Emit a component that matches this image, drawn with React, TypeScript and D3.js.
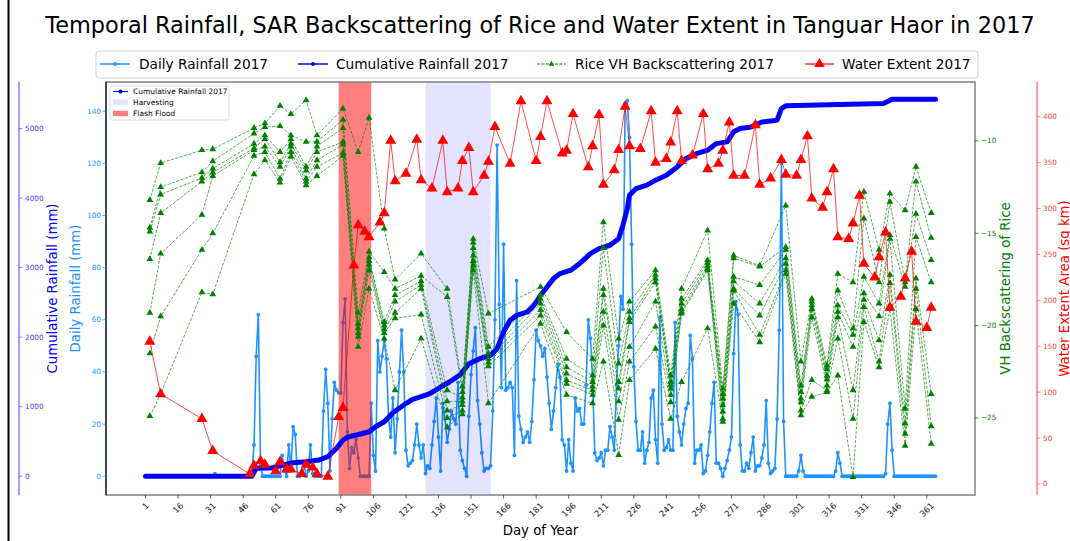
import React from "react";
import * as d3 from "d3";

// daily rainfall 2017, day 1..365 (mm)
const dailyRain: number[] = [
  0, 0, 0, 0, 0, 0, 0, 0, 0, 0,
  0, 0, 0, 0, 0, 0, 0, 0, 0, 0,
  0, 0, 0, 0, 0, 0, 0, 0, 0, 0,
  0, 0, 1, 0, 0, 0, 0, 0, 0, 0,
  0, 0, 0, 0, 0, 0, 0, 0, 0, 0,
  12, 46, 62, 4, 0, 0, 0, 0, 0, 0,
  0, 0, 0, 8, 2, 0, 12, 3, 19, 16,
  0, 0, 1, 5, 0, 2, 12, 1, 0, 0,
  0, 0, 25, 41, 28, 2, 22, 36, 33, 32,
  32, 59, 68, 17, 3, 11, 9, 14, 7, 0,
  0, 0, 0, 0, 28, 8, 2, 52, 40, 46,
  52, 45, 22, 15, 30, 9, 22, 40, 56, 40,
  10, 4, 5, 6, 12, 20, 12, 7, 12, 1,
  4, 3, 12, 21, 30, 15, 2, 28, 22, 13,
  18, 25, 22, 20, 36, 10, 6, 3, 0, 23,
  39, 48, 57, 29, 20, 9, 2, 3, 3, 4,
  25, 60, 127, 66, 34, 89, 33, 34, 36, 34,
  8, 75, 23, 18, 13, 15, 17, 13, 21, 37,
  56, 52, 50, 46, 49, 38, 28, 18, 25, 34,
  43, 38, 14, 12, 2, 14, 5, 2, 30, 25,
  26, 20, 20, 35, 60, 53, 37, 9, 6, 7,
  9, 4, 10, 10, 19, 15, 10, 35, 50, 69,
  64, 143, 144, 130, 89, 42, 21, 10, 10, 17,
  5, 10, 13, 30, 33, 14, 5, 61, 20, 10,
  11, 14, 10, 10, 59, 23, 17, 12, 20, 26,
  28, 54, 45, 5, 10, 10, 12, 1, 2, 8,
  17, 28, 36, 5, 5, 3, 0, 3, 6, 10,
  15, 47, 67, 62, 12, 2, 2, 5, 3, 9,
  15, 2, 4, 4, 7, 12, 29, 5, 1, 2,
  3, 22, 56, 120, 21, 0, 0, 0, 0, 0,
  0, 2, 8, 2, 0, 0, 0, 0, 0, 0,
  0, 0, 0, 0, 0, 0, 0, 0, 2, 9,
  5, 0, 0, 0, 0, 0, 0, 0, 0, 0,
  0, 0, 0, 0, 0, 0, 0, 0, 0, 0,
  0, 1, 20, 28, 10, 0, 0, 0, 0, 0,
  0, 0, 0, 0, 0, 0, 0, 0, 0, 0,
  0, 0, 0, 0, 0,
];

// cumulative rainfall
const cumDays = [1, 50, 52, 59, 69, 75, 81, 85, 89, 92, 94, 100, 104, 107, 111, 115, 120, 124, 128, 132, 137, 141, 146, 150, 155, 160, 163, 166, 169, 172, 177, 180, 183, 186, 189, 192, 197, 201, 206, 210, 215, 219, 221, 223, 224, 227, 232, 236, 241, 246, 250, 255, 260, 264, 269, 272, 275, 280, 285, 292, 294, 296, 306, 321, 341, 345, 365];
const cumRain = [0, 0, 114, 120, 194, 208, 233, 281, 401, 521, 560, 607, 640, 712, 784, 914, 1024, 1106, 1144, 1187, 1283, 1355, 1460, 1619, 1691, 1740, 1835, 2075, 2243, 2315, 2363, 2459, 2603, 2722, 2842, 2915, 2963, 3058, 3202, 3273, 3322, 3417, 3610, 3849, 4042, 4137, 4186, 4258, 4329, 4449, 4568, 4640, 4689, 4784, 4809, 4953, 5000, 5024, 5096, 5121, 5288, 5327, 5336, 5345, 5360, 5423, 5423];

// rice VH backscattering (dB), several fields per acquisition date
const vhDays = [3, 8, 27, 32, 51, 56, 63, 68, 75, 80, 92, 99, 104, 111, 116, 128, 140, 147, 152, 159, 183, 195, 207, 212, 219, 224, 236, 243, 248, 260, 267, 272, 284, 296, 303, 308, 315, 320, 327, 332, 339, 344, 351, 356, 363];
const vhByDate: number[][] = [
  [-13.2, -14.7, -14.9, -16.4, -19.3, -21.5, -24.9],
  [-11.2, -12.5, -12.9, -13.9, -16.1, -19.5, -23.7],
  [-10.5, -11.7, -12.0, -12.2, -14.0, -15.9, -18.2],
  [-10.45, -11.1, -11.5, -11.7, -11.9, -15.0, -18.3],
  [-9.3, -9.6, -10.15, -10.4, -10.5, -10.8, -11.8],
  [-9.05, -9.25, -9.7, -9.9, -10.3, -10.6, -11.05],
  [-8.1, -9.2, -10.6, -11.15, -11.4, -12.05, -12.25],
  [-8.55, -9.7, -9.9, -10.15, -10.3, -10.6, -10.85],
  [-7.8, -10.05, -11.4, -11.6, -12.05, -12.2, -12.4],
  [-9.7, -10.05, -10.3, -10.6, -11.05, -11.4, -11.9],
  [-8.25, -8.85, -9.3, -10.05, -10.2, -10.65, -10.8],
  [-10.6, -19.3, -19.9, -20.15, -20.4, -20.6, -21.15],
  [-8.75, -16.0, -16.3, -16.5, -16.7, -17.0, -18.0],
  [-14.75, -17.1, -19.8, -20.0, -20.2, -20.4, -20.7],
  [-17.5, -18.0, -18.35, -18.7, -19.3, -19.6, -23.5],
  [-16.1, -17.3, -17.6, -17.8, -18.0, -19.4, -20.7],
  [-18.0, -18.45, -23.5, -24.1, -24.6, -25.0, -25.5],
  [-23.3, -23.6, -23.9, -24.1, -24.3, -24.6, -24.8],
  [-15.3, -15.5, -15.8, -16.2, -16.5, -16.75, -17.0],
  [-19.35, -21.15, -21.5, -21.8, -22.0, -22.2, -24.2],
  [-17.9, -18.35, -18.55, -18.8, -19.15, -19.45, -19.9],
  [-20.35, -21.8, -22.25, -22.6, -22.95, -23.15, -23.75],
  [-21.8, -22.7, -23.05, -23.3, -23.5, -23.75, -24.2],
  [-14.4, -15.8, -18.0, -18.35, -19.25, -20.0, -21.95],
  [-20.7, -22.05, -23.05, -23.4, -24.1, -25.1, -27.0],
  [-18.7, -19.25, -19.6, -19.8, -21.15, -21.95, -22.95],
  [-17.0, -17.25, -17.45, -17.65, -18.7, -20.05, -21.25],
  [-22.7, -23.05, -23.2, -23.4, -23.75, -24.15, -25.05],
  [-18.0, -18.55, -18.8, -19.1, -19.25, -19.35, -23.05],
  [-14.85, -16.45, -16.6, -16.75, -16.9, -17.0, -20.15],
  [-23.4, -23.7, -23.95, -24.3, -24.65, -25.05, -25.2],
  [-16.2, -16.35, -17.35, -17.6, -18.0, -18.1, -18.8],
  [-16.75, -16.8, -17.8, -18.8, -19.45, -20.5, -20.9],
  [-13.5, -15.75, -15.9, -16.35, -16.65, -17.0, -17.2],
  [-21.95, -23.25, -23.6, -23.95, -24.15, -24.6, -24.85],
  [-18.55, -18.7, -18.9, -19.1, -19.55, -22.95, -23.85],
  [-22.15, -22.35, -22.7, -22.9, -23.25, -23.5, -23.6],
  [-17.2, -18.1, -18.9, -19.25, -19.55, -20.7, -22.7],
  [-17.65, -20.15, -20.5, -21.15, -23.5, -25.05, -28.2],
  [-12.75, -14.2, -17.35, -18.25, -18.6, -19.0, -19.8],
  [-15.9, -17.65, -18.8, -19.5, -20.8, -21.95, -22.25],
  [-12.85, -13.3, -15.1, -15.3, -17.25, -17.7, -19.1],
  [-13.75, -17.65, -17.9, -24.5, -25.3, -25.85, -26.5],
  [-11.4, -12.2, -13.95, -15.2, -17.45, -18.0, -19.1],
  [-13.9, -15.25, -16.45, -17.65, -23.7, -25.45, -26.4],
];

// water extent area (sq km)
const waterDays = [3, 8, 27, 32, 49, 51, 54, 56, 61, 63, 66, 68, 73, 75, 78, 80, 85, 90, 92, 97, 99, 102, 104, 109, 111, 114, 116, 121, 126, 128, 133, 138, 140, 145, 147, 150, 152, 157, 159, 162, 169, 174, 181, 183, 186, 193, 195, 198, 205, 207, 210, 212, 217, 219, 222, 224, 229, 234, 236, 241, 243, 246, 248, 253, 258, 260, 265, 267, 270, 272, 277, 282, 284, 289, 294, 296, 301, 303, 306, 308, 313, 315, 318, 320, 325, 327, 330, 332, 337, 339, 342, 344, 349, 351, 354, 356, 361, 363];
const waterExtent = [155, 98, 71, 36, 11, 20, 25, 21, 14, 24, 16, 16, 11, 21, 18, 11, 8, 73, 83, 238, 282, 275, 269, 285, 295, 374, 330, 338, 375, 331, 322, 374, 318, 322, 352, 366, 318, 336, 351, 389, 349, 417, 352, 378, 417, 360, 363, 403, 345, 368, 402, 326, 342, 364, 411, 368, 365, 406, 350, 354, 372, 406, 352, 358, 403, 343, 349, 363, 394, 336, 336, 391, 326, 333, 353, 337, 336, 353, 379, 311, 301, 318, 343, 269, 267, 284, 314, 240, 225, 247, 274, 192, 204, 224, 253, 177, 170, 192];

const floodSpan = [90, 105];
const harvestSpan = [130, 160];

const xTicks = [1, 16, 31, 46, 61, 76, 91, 106, 121, 136, 151, 166, 181, 196, 211, 226, 241, 256, 271, 286, 301, 316, 331, 346, 361];
const dailyTicks = [0, 20, 40, 60, 80, 100, 120, 140];
const cumTicks = [0, 1000, 2000, 3000, 4000, 5000];
const vhTicks = [-25, -20, -15, -10];
const waterTicks = [0, 50, 100, 150, 200, 250, 300, 350, 400];

const FONT = "DejaVu Sans";
const C_DAILY = "#1e93ff";
const C_CUM = "#0000ff";
const C_VH = "#008000";
const C_WATER = "#ff0000";

const L = 106, R = 975, T = 82, B = 495;

const tri = (area: number) => d3.symbol().type(d3.symbolTriangle).size(area)() || "";

const App: React.FC = () => {
  const x = d3.scaleLinear().domain([-17.2, 383.2]).range([L, R]);
  const yDaily = d3.scaleLinear().domain([-7.2, 151.2]).range([B, T]);
  const yCum = d3.scaleLinear().domain([-270, 5670]).range([B, T]);
  const yVh = d3.scaleLinear().domain([-29.17, -6.81]).range([B, T]);
  const yWater = d3.scaleLinear().domain([-12, 437.8]).range([B, T]);

  const dailyPath = d3.line<number>().x((_, i) => x(i + 1)).y((d) => yDaily(d))(dailyRain) || "";
  const cumPath = d3.line<number>().x((_, i) => x(cumDays[i])).y((d) => yCum(d))(cumRain) || "";
  const waterPath = d3.line<number>().x((_, i) => x(waterDays[i])).y((d) => yWater(d))(waterExtent) || "";
  const nSeries = vhByDate[0].length;
  const vhPaths = d3.range(nSeries).map(
    (s) => d3.line<number[]>().x((_, i) => x(vhDays[i])).y((d) => yVh(d[s]))(vhByDate) || ""
  );

  const triWater = tri(52);
  const triVh = tri(20);
  const triLegWater = tri(48);
  const triLegVh = tri(14);

  const xtFs = 8.5;

  return (
    <svg width={1070} height={541} style={{ position: "absolute", left: 0, top: 0 }} fontFamily={FONT}>
      <rect x={0} y={0} width={1070} height={541} fill="white" />
      <line x1={8.5} x2={8.5} y1={0} y2={541} stroke="black" strokeWidth={2} />

      {/* title */}
      <text x={540} y={33} textAnchor="middle" fontSize={22.4} fill="#000">
        Temporal Rainfall, SAR Backscattering of Rice and Water Extent in Tanguar Haor in 2017
      </text>

      {/* top legend */}
      <rect x={96} y={51} width={882} height={27} rx={3} fill="white" stroke="#d0d0d0" />
      <g fontSize={13.7}>
        <line x1={100} x2={130} y1={64} y2={64} stroke={C_DAILY} strokeWidth={1.5} />
        <circle cx={115} cy={64} r={2} fill={C_DAILY} />
        <text x={139} y={64} dominantBaseline="central">Daily Rainfall 2017</text>
        <line x1={298} x2={328} y1={64} y2={64} stroke={C_CUM} strokeWidth={1.5} />
        <circle cx={313} cy={64} r={2} fill={C_CUM} />
        <text x={336} y={64} dominantBaseline="central">Cumulative Rainfall 2017</text>
        <line x1={537} x2={566} y1={64} y2={64} stroke={C_VH} strokeWidth={1} strokeDasharray="3,1.5" />
        <path d={triLegVh} transform="translate(551.5,64)" fill={C_VH} />
        <text x={575} y={64} dominantBaseline="central">Rice VH Backscattering 2017</text>
        <line x1={805} x2={834} y1={64} y2={64} stroke={C_WATER} strokeWidth={1.2} />
        <path d={triLegWater} transform="translate(819.5,64)" fill={C_WATER} />
        <text x={842} y={64} dominantBaseline="central">Water Extent 2017</text>
      </g>

      {/* daily rainfall (bottom layer) */}
      <path d={dailyPath} fill="none" stroke={C_DAILY} strokeWidth={1.6} strokeLinejoin="round" />
      {dailyRain.map((d, i) => (
        <circle key={"dr" + i} cx={x(i + 1)} cy={yDaily(d)} r={1.9} fill={C_DAILY} />
      ))}

      {/* shaded periods */}
      <rect x={x(harvestSpan[0])} y={T} width={x(harvestSpan[1]) - x(harvestSpan[0])} height={B - T} fill="#0000ff" fillOpacity={0.11} />
      <rect x={x(floodSpan[0])} y={T} width={x(floodSpan[1]) - x(floodSpan[0])} height={B - T} fill="#ff0000" fillOpacity={0.5} />

      {/* cumulative rainfall */}
      <path d={cumPath} fill="none" stroke={C_CUM} strokeWidth={5} strokeLinejoin="round" strokeLinecap="round" />

      {/* VH backscattering */}
      {vhPaths.map((p, s) => (
        <path key={"vh" + s} d={p} fill="none" stroke={C_VH} strokeWidth={0.9} strokeDasharray="3,1.5" strokeOpacity={0.75} />
      ))}
      {vhByDate.map((vals, i) =>
        vals.map((v, s) => (
          <path key={`vt${i}-${s}`} d={triVh} transform={`translate(${x(vhDays[i])},${yVh(v)})`} fill={C_VH} />
        ))
      )}

      {/* water extent */}
      <path d={waterPath} fill="none" stroke={C_WATER} strokeWidth={1} strokeOpacity={0.7} />
      {waterExtent.map((v, i) => (
        <path key={"w" + i} d={triWater} transform={`translate(${x(waterDays[i])},${yWater(v)})`} fill={C_WATER} />
      ))}

      {/* frame */}
      <rect x={L} y={T} width={R - L} height={B - T} fill="none" stroke="#808080" strokeWidth={1.5} />
      <line x1={L} x2={L} y1={T} y2={B} stroke="#1c2c4c" strokeWidth={1.5} />

      {/* inner legend */}
      <rect x={110} y={86} width={119} height={34} rx={2} fill="white" fillOpacity={0.85} stroke="#d0d0d0" strokeWidth={0.8} />
      <g fontSize={7.5}>
        <line x1={113} x2={128} y1={91.5} y2={91.5} stroke={C_CUM} strokeWidth={1} />
        <circle cx={120.5} cy={91.5} r={2} fill={C_CUM} />
        <text x={133} y={91.5} dominantBaseline="central">Cumulative Rainfall 2017</text>
        <rect x={113} y={99.5} width={15} height={5.5} fill="#0000ff" fillOpacity={0.11} />
        <text x={133} y={102.3} dominantBaseline="central">Harvesting</text>
        <rect x={113} y={110.7} width={15} height={5.5} fill="#ff0000" fillOpacity={0.5} />
        <text x={133} y={113.5} dominantBaseline="central">Flash Flood</text>
      </g>

      {/* x axis */}
      {xTicks.map((t) => {
        const s = String(t);
        const w = s.length * 0.636 * xtFs;
        const hh = (w + xtFs) / Math.SQRT2;
        return (
          <g key={"xt" + t}>
            <line x1={x(t)} x2={x(t)} y1={B} y2={B + 3.5} stroke="#333" strokeWidth={0.8} />
            <text
              transform={`translate(${x(t)},${B + 6 + hh / 2}) rotate(-45)`}
              textAnchor="middle"
              dominantBaseline="central"
              fontSize={xtFs}
              fill="#222"
            >
              {s}
            </text>
          </g>
        );
      })}
      <text x={540.5} y={535} textAnchor="middle" fontSize={13.3}>Day of Year</text>

      {/* daily rainfall axis */}
      {dailyTicks.map((t) => (
        <g key={"dt" + t}>
          <line x1={L - 3.5} x2={L} y1={yDaily(t)} y2={yDaily(t)} stroke={C_DAILY} strokeWidth={0.8} />
          <text x={L - 5} y={yDaily(t)} textAnchor="end" dominantBaseline="central" fontSize={7.3} fill={C_DAILY}>{t}</text>
        </g>
      ))}
      <text transform="translate(75,288.5) rotate(-90)" textAnchor="middle" dominantBaseline="central" fontSize={13.3} fill={C_DAILY}>
        Daily Rainfall (mm)
      </text>

      {/* cumulative axis */}
      <line x1={19} x2={19} y1={T} y2={B} stroke={C_CUM} strokeOpacity={0.5} strokeWidth={1.5} />
      {cumTicks.map((t) => (
        <g key={"ct" + t}>
          <line x1={19} x2={22.5} y1={yCum(t)} y2={yCum(t)} stroke={C_CUM} strokeOpacity={0.6} strokeWidth={0.8} />
          <text x={25} y={yCum(t)} dominantBaseline="central" fontSize={7.3} fill={C_CUM} fillOpacity={0.8}>{t}</text>
        </g>
      ))}
      <text transform="translate(52,288.5) rotate(-90)" textAnchor="middle" dominantBaseline="central" fontSize={13.3} fill={C_CUM}>
        Cumulative Rainfall (mm)
      </text>

      {/* VH axis */}
      {vhTicks.map((t) => (
        <g key={"vt" + t}>
          <line x1={R} x2={R + 3.5} y1={yVh(t)} y2={yVh(t)} stroke={C_VH} strokeWidth={0.8} />
          <text x={R + 6} y={yVh(t)} dominantBaseline="central" fontSize={7.3} fill={C_VH}>{"\u2212" + Math.abs(t)}</text>
        </g>
      ))}
      <text transform="translate(1005,288.5) rotate(-90)" textAnchor="middle" dominantBaseline="central" fontSize={13.3} fill={C_VH}>
        VH Backscattering of Rice
      </text>

      {/* water extent axis */}
      <line x1={1037} x2={1037} y1={T} y2={B} stroke={C_WATER} strokeOpacity={0.5} strokeWidth={1.5} />
      {waterTicks.map((t) => (
        <g key={"wt" + t}>
          <line x1={1037} x2={1040.5} y1={yWater(t)} y2={yWater(t)} stroke={C_WATER} strokeOpacity={0.6} strokeWidth={0.8} />
          <text x={1043} y={yWater(t)} dominantBaseline="central" fontSize={7.3} fill={C_WATER} fillOpacity={0.8}>{t}</text>
        </g>
      ))}
      <text transform="translate(1064,288.5) rotate(-90)" textAnchor="middle" dominantBaseline="central" fontSize={13.3} fill={C_WATER}>
        Water Extent Area (sq km)
      </text>
    </svg>
  );
};

export default App;
